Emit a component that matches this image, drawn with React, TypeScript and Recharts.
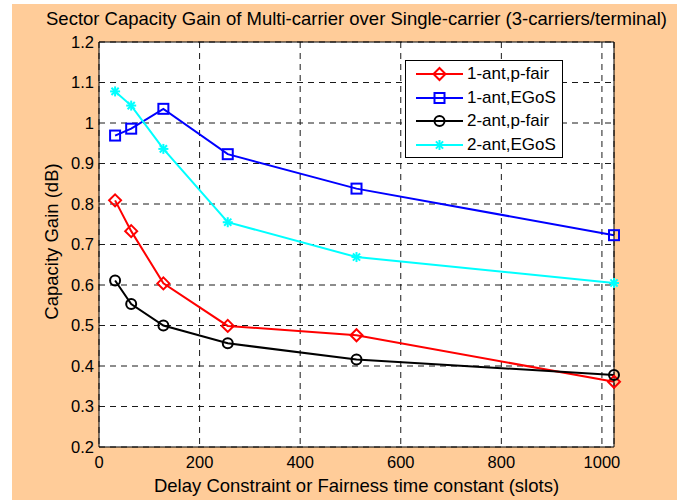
import React from 'react';
import { LineChart, Line, XAxis, YAxis, CartesianGrid, Legend, Label } from 'recharts';

const xValues = [32, 64, 128, 256, 512, 1024];
const oneAntPFair = [0.809, 0.733, 0.604, 0.499, 0.476, 0.361];
const oneAntEGoS = [0.969, 0.986, 1.035, 0.923, 0.838, 0.723];
const twoAntPFair = [0.611, 0.553, 0.5, 0.456, 0.416, 0.378];
const twoAntEGoS = [1.078, 1.043, 0.936, 0.755, 0.669, 0.605];
const xTicks = [0, 200, 400, 600, 800, 1000];
const yTicks = [0.2, 0.3, 0.4, 0.5, 0.6, 0.7, 0.8, 0.9, 1, 1.1, 1.2];
const seriesNames = ['1-ant,p-fair', '1-ant,EGoS', '2-ant,p-fair', '2-ant,EGoS'];
const seriesColors = ['#ff0000', '#0000ff', '#000000', '#00ffff'];
const titleText = 'Sector Capacity Gain of Multi-carrier over Single-carrier (3-carriers/terminal)';
const xLabelText = 'Delay Constraint or Fairness time constant (slots)';
const yLabelText = 'Capacity Gain (dB)';

const data = xValues.map((x, i) => ({
  x,
  s0: oneAntPFair[i],
  s1: oneAntEGoS[i],
  s2: twoAntPFair[i],
  s3: twoAntEGoS[i],
}));

const FONT = '"Liberation Sans", Arial, Helvetica, sans-serif';
const LABEL_SIZE = 18.5;

function Marker({ kind, cx, cy, color }: { kind: number; cx: number; cy: number; color: string }) {
  if (kind === 0) {
    const r = 6;
    return (
      <polygon
        points={`${cx},${cy - r} ${cx + r},${cy} ${cx},${cy + r} ${cx - r},${cy}`}
        fill="none"
        stroke={color}
        strokeWidth={2}
      />
    );
  }
  if (kind === 1) {
    const h = 5;
    return <rect x={cx - h} y={cy - h} width={2 * h} height={2 * h} fill="none" stroke={color} strokeWidth={2} />;
  }
  if (kind === 2) {
    return <circle cx={cx} cy={cy} r={5} fill="none" stroke={color} strokeWidth={2} />;
  }
  const a = 5;
  const d = 3.6;
  return (
    <g stroke={color} strokeWidth={2}>
      <line x1={cx - a} y1={cy} x2={cx + a} y2={cy} />
      <line x1={cx} y1={cy - a} x2={cx} y2={cy + a} />
      <line x1={cx - d} y1={cy - d} x2={cx + d} y2={cy + d} />
      <line x1={cx - d} y1={cy + d} x2={cx + d} y2={cy - d} />
    </g>
  );
}

const makeDot = (kind: number) => (props: any) => {
  const { cx, cy, index } = props;
  if (cx == null || cy == null) return <g key={`e-${kind}-${index}`} />;
  return (
    <g key={`d-${kind}-${index}`}>
      <Marker kind={kind} cx={cx} cy={cy} color={seriesColors[kind]} />
    </g>
  );
};

const LegendBox = () => (
  <div
    style={{
      width: 156,
      height: 96,
      border: '1px solid #000',
      background: '#fff',
      fontFamily: FONT,
      fontSize: 17,
      position: 'relative',
    }}
  >
    {seriesNames.map((name, i) => (
      <div key={name} style={{ position: 'absolute', left: 0, top: 2 + i * 23.7, height: 22, width: 156 }}>
        <svg width={60} height={22} style={{ position: 'absolute', left: 0, top: 0 }}>
          <line x1={10} y1={11} x2={57} y2={11} stroke={seriesColors[i]} strokeWidth={2} />
          <Marker kind={i} cx={33.5} cy={11} color={seriesColors[i]} />
        </svg>
        <span style={{ position: 'absolute', left: 61, top: 1, whiteSpace: 'nowrap', lineHeight: '19px' }}>{name}</span>
      </div>
    ))}
  </div>
);

export default function App() {
  return (
    <div style={{ position: 'absolute', left: 0, top: 0, width: 684, height: 500, background: '#fff', overflow: 'hidden' }}>
      <div style={{ position: 'absolute', left: 12, top: 4, width: 665, height: 496, background: '#ffcc99' }} />
      <div style={{ position: 'absolute', left: 0, top: 0 }}>
        <LineChart width={684} height={500} data={data} margin={{ top: 42, right: 70, bottom: 0, left: 0 }}>
          <CartesianGrid fill="#ffffff" stroke="#1a1a1a" strokeDasharray="6 5" />
          <XAxis
            dataKey="x"
            type="number"
            domain={[0, 1024]}
            ticks={xTicks}
            height={53}
            axisLine={{ stroke: '#000', strokeWidth: 1 }}
            tickLine={false}
            tickSize={0}
            tickMargin={9}
            tick={{ fill: '#000', fontSize: 16.5, fontFamily: FONT }}
            interval={0}
          >
            <Label
              content={(p: any) => {
                const vb = p.viewBox || { x: 99, y: 447, width: 515 };
                return (
                  <text x={vb.x + vb.width / 2} y={492} textAnchor="middle" fontSize={LABEL_SIZE} fontFamily={FONT} fill="#000">
                    {xLabelText}
                  </text>
                );
              }}
            />
          </XAxis>
          <XAxis
            xAxisId="bottomTicks"
            dataKey="x"
            type="number"
            domain={[0, 1024]}
            ticks={xTicks}
            height={10}
            orientation="bottom"
            mirror
            axisLine={false}
            tickSize={5}
            tick={false}
            tickLine={{ stroke: '#000' }}
            interval={0}
          />
          <XAxis
            xAxisId="top"
            dataKey="x"
            type="number"
            domain={[0, 1024]}
            ticks={xTicks}
            height={10}
            orientation="top"
            mirror
            axisLine={{ stroke: '#000', strokeWidth: 1 }}
            tickSize={5}
            tick={false}
            tickLine={{ stroke: '#000' }}
            interval={0}
          >
            <Label
              content={(p: any) => {
                const vb = p.viewBox || { x: 99, y: 42, width: 515 };
                return (
                  <text x={vb.x + vb.width / 2} y={24.5} textAnchor="middle" fontSize={LABEL_SIZE} fontFamily={FONT} fill="#000">
                    {titleText}
                  </text>
                );
              }}
            />
          </XAxis>
          <YAxis
            type="number"
            domain={[0.2, 1.2]}
            ticks={yTicks}
            width={99}
            axisLine={{ stroke: '#000', strokeWidth: 1 }}
            tickLine={false}
            tickSize={0}
            tickMargin={5}
            tick={{ fill: '#000', fontSize: 16.5, fontFamily: FONT }}
            interval={0}
          >
            <Label
              content={(p: any) => {
                const vb = p.viewBox || { x: 0, y: 42, height: 405 };
                const cy = vb.y + vb.height / 2 - 3;
                return (
                  <text
                    x={58}
                    y={cy}
                    transform={`rotate(-90, 58, ${cy})`}
                    textAnchor="middle"
                    fontSize={LABEL_SIZE}
                    fontFamily={FONT}
                    fill="#000"
                  >
                    {yLabelText}
                  </text>
                );
              }}
            />
          </YAxis>
          <YAxis
            yAxisId="leftTicks"
            type="number"
            domain={[0.2, 1.2]}
            ticks={yTicks}
            width={10}
            mirror
            axisLine={false}
            tickSize={5}
            tick={false}
            tickLine={{ stroke: '#000' }}
            interval={0}
          />
          <YAxis
            yAxisId="right"
            type="number"
            orientation="right"
            domain={[0.2, 1.2]}
            ticks={yTicks}
            width={10}
            mirror
            axisLine={{ stroke: '#000', strokeWidth: 1 }}
            tickSize={5}
            tick={false}
            tickLine={{ stroke: '#000' }}
            interval={0}
          />
          {[0, 1, 2, 3].map((k) => (
            <Line
              key={k}
              dataKey={`s${k}`}
              name={seriesNames[k]}
              type="linear"
              stroke={seriesColors[k]}
              strokeWidth={2}
              dot={makeDot(k)}
              activeDot={false}
              isAnimationActive={false}
            />
          ))}
          <Legend
            layout="vertical"
            align="center"
            verticalAlign="middle"
            wrapperStyle={{ left: 405, top: 60, width: 158, height: 98 }}
            content={() => <LegendBox />}
          />
        </LineChart>
      </div>
    </div>
  );
}
